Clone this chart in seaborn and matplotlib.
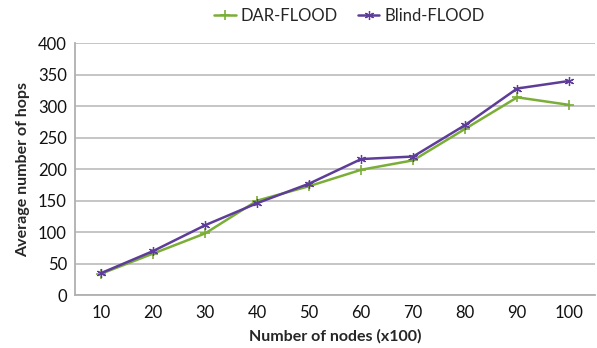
import matplotlib
matplotlib.use("Agg")
import matplotlib.pyplot as plt
import pandas as pd
import seaborn as sns

# values
nodes = ["10", "20", "30", "40", "50", "60", "70", "80", "90", "100"]
dar_flood = [34, 66, 98, 150, 173, 199, 214, 264, 314, 302]
blind_flood = [35, 70, 111, 146, 177, 216, 220, 270, 328, 340]

df = pd.DataFrame({
    "nodes": nodes * 2,
    "hops": dar_flood + blind_flood,
    "series": ["DAR-FLOOD"] * len(nodes) + ["Blind-FLOOD"] * len(nodes),
})

sns.set_style("white")
plt.rcParams["font.family"] = ["Lato", "DejaVu Sans"]

fig = plt.figure(figsize=(5.97, 3.48), dpi=100)
ax = fig.add_axes([0.126, 0.152, 0.871, 0.724])

green = "#7AAE36"
purple = "#5E3C99"

sns.lineplot(data=df[df.series == "DAR-FLOOD"], x="nodes", y="hops", ax=ax,
             color=green, marker="+", markersize=6.5, markeredgewidth=1.2,
             markeredgecolor=green, linewidth=1.8, label="DAR-FLOOD", sort=False)
sns.lineplot(data=df[df.series == "Blind-FLOOD"], x="nodes", y="hops", ax=ax,
             color=purple, marker=(6, 2, 0), markersize=6.5, markeredgewidth=0.9,
             markeredgecolor=purple, linewidth=1.8, label="Blind-FLOOD", sort=False)

ax.set_ylim(0, 400)
ax.set_xlim(-0.5, 9.5)
ax.set_yticks(range(0, 401, 50))
ax.yaxis.grid(True, color="#C0C0C0", linewidth=1.3)
ax.set_axisbelow(True)

for side in ["top", "right"]:
    ax.spines[side].set_visible(False)
for side in ["left", "bottom"]:
    ax.spines[side].set_color("#B0B0B0")
    ax.spines[side].set_linewidth(1.3)

ax.tick_params(axis="y", length=4, color="#B0B0B0", width=1.2, labelsize=12,
               pad=2, labelcolor="#111111")
ax.tick_params(axis="x", length=0, labelsize=12, pad=7, labelcolor="#111111")

ax.set_xlabel("Number of nodes (x100)", fontsize=11.5, fontweight="bold", labelpad=6)
ax.set_ylabel("Average number of hops", fontsize=11.5, fontweight="bold", labelpad=6)

ax.get_legend().remove()
handles, labels = ax.get_legend_handles_labels()
fig.legend(handles, labels, loc="upper center", bbox_to_anchor=(0.585, 1.02),
           ncol=2, frameon=False, fontsize=12, handlelength=1.3,
           handletextpad=0.3, columnspacing=1.2)

fig.savefig("out.png", dpi=100)
